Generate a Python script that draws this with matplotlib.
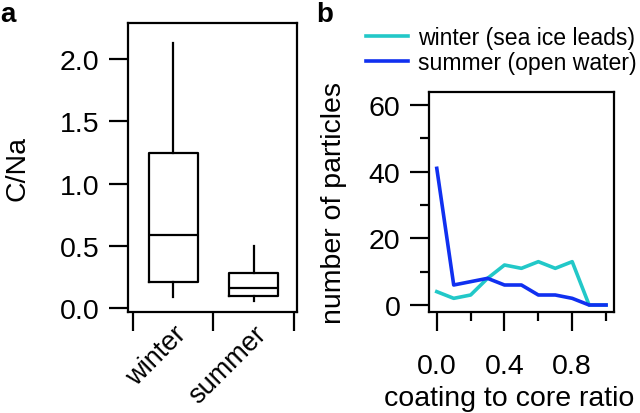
import numpy as np
import matplotlib
matplotlib.use("Agg")
import matplotlib.pyplot as plt

plt.rcParams['font.family'] = ['Liberation Sans', 'DejaVu Sans']

# panel a: C/Na box stats
seasons = ["winter", "summer"]
whislo = [0.09, 0.06]
q1 = [0.21, 0.10]
med = [0.59, 0.16]
q3 = [1.25, 0.28]
whishi = [2.13, 0.50]

# panel b: coating to core ratio distribution
ratio = [0.0, 0.1, 0.2, 0.3, 0.4, 0.5, 0.6, 0.7, 0.8, 0.9, 1.0]
n_winter = [4, 2, 3, 8, 12, 11, 13, 11, 13, 0, 0]
n_summer = [41, 6, 7, 8, 6, 6, 3, 3, 2, 0, 0]

W, H = 640, 414
fig = plt.figure(figsize=(6.4, 4.14), dpi=100)
axa = fig.add_axes([128 / W, 1 - 313 / H, 169 / W, 289 / H])
axb = fig.add_axes([429 / W, 1 - 313 / H, 185 / W, 220 / H])

# ---- a
stats = []
for i, s in enumerate(seasons):
    stats.append(dict(label=s, whislo=whislo[i], q1=q1[i], med=med[i],
                      q3=q3[i], whishi=whishi[i], fliers=[]))
lp = dict(color="black", linewidth=1.6)
axa.bxp(stats, positions=[0.5, 1.5], widths=0.61, showcaps=False,
        boxprops=lp, medianprops=lp, whiskerprops=lp, manage_ticks=False)
axa.set_xlim(-0.06, 2.04)
axa.set_ylim(-0.03, 2.29)
axa.set_yticks([0.0, 0.5, 1.0, 1.5, 2.0])
axa.set_yticklabels(["0.0", "0.5", "1.0", "1.5", "2.0"])
axa.set_xticks([0, 1, 2])
axa.set_xticklabels([])
axa.set_xticks([0.5, 1.5], minor=True)
axa.set_xticklabels(seasons, minor=True, rotation=45, ha="right",
                    rotation_mode="anchor")
axa.tick_params(axis="x", which="minor", length=0, pad=6, labelsize=19.5)
axa.tick_params(axis="both", which="major", length=13.5, width=1.6,
                labelsize=20.5, pad=7)
axa.set_ylabel("C/Na", fontsize=20.5)
axa.yaxis.set_label_coords(-0.574, 0.5)

# ---- b
axb.plot(ratio, n_winter, color="#22C8C8", linewidth=2.6,
         label="winter (sea ice leads)")
axb.plot(ratio, n_summer, color="#1030F0", linewidth=2.6,
         label="summer (open water)")
axb.set_xlim(-0.046, 1.047)
axb.set_ylim(-2.1, 63.9)
axb.set_yticks([0, 20, 40, 60])
axb.set_yticks([10, 30, 50], minor=True)
axb.set_xticks([0.0, 0.4, 0.8])
axb.set_xticklabels(["0.0", "0.4", "0.8"])
axb.set_xticks([0.2, 0.6, 1.0], minor=True)
axb.tick_params(axis="both", which="major", length=13.5, width=1.6,
                labelsize=20.5, pad=7)
axb.tick_params(axis="both", which="minor", length=6.5, width=1.6)
axb.tick_params(axis="x", which="major", pad=16)
axb.set_xlabel("coating to core ratio", fontsize=20.5)
axb.xaxis.set_label_coords(0.432, -0.33)
axb.set_ylabel("number of particles", fontsize=20.5)
axb.yaxis.set_label_coords(-0.443, 0.5)
fig.legend(loc="upper left", bbox_to_anchor=(366 / W, 1 - 27 / H),
           frameon=False, fontsize=16.6, handlelength=1.83,
           handletextpad=0.43, labelspacing=0.08, borderpad=0,
           borderaxespad=0)

for ax in (axa, axb):
    for sp in ax.spines.values():
        sp.set_linewidth(1.6)

fig.text(0 / W, 1 - 22 / H, "a", fontsize=20, fontweight="bold",
         va="baseline")
fig.text(316 / W, 1 - 22 / H, "b", fontsize=20, fontweight="bold",
         va="baseline")

fig.savefig("out.png", dpi=100)
